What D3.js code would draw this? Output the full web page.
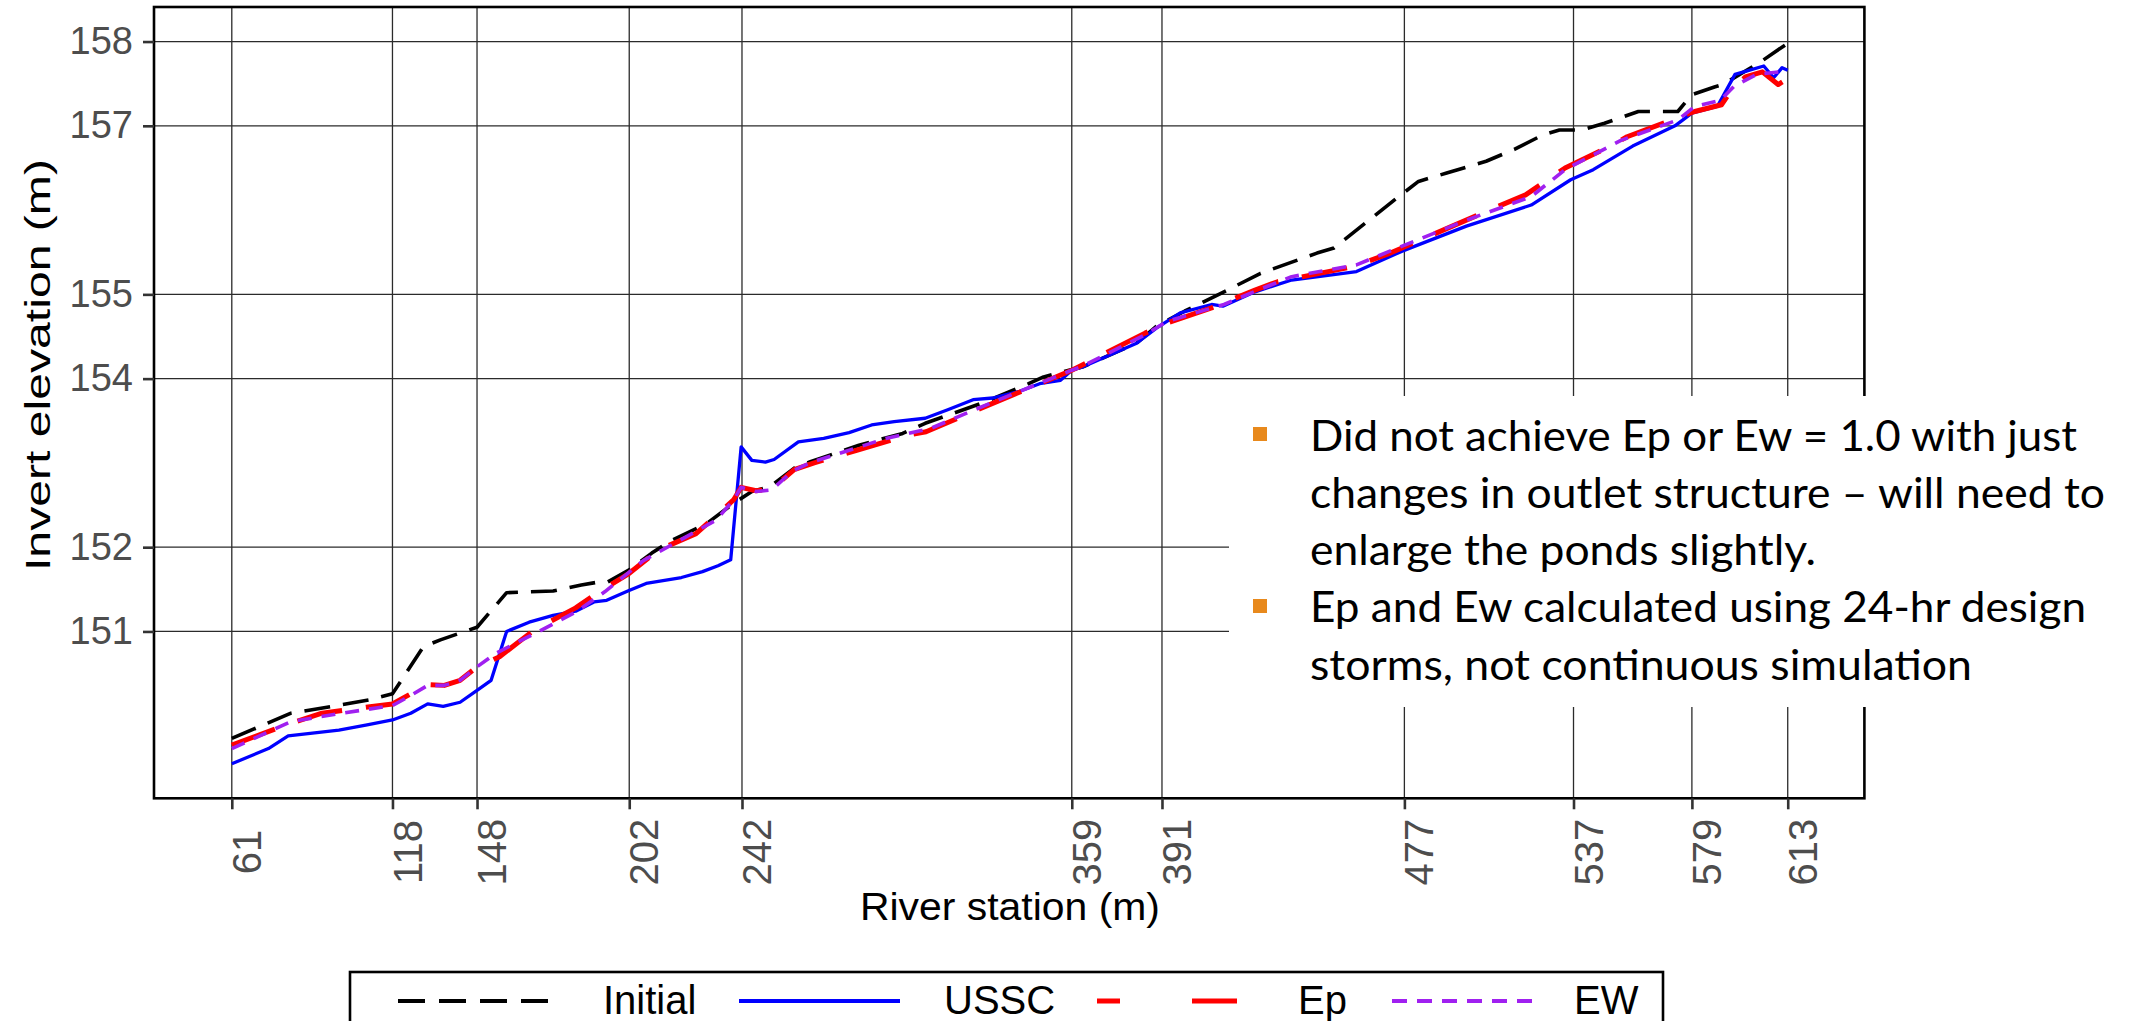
<!DOCTYPE html>
<html>
<head>
<meta charset="utf-8">
<script src="https://cdn.jsdelivr.net/npm/d3@7"></script>
<style>
  html, body { margin: 0; padding: 0; background: #ffffff; }
  svg { display: block; }
</style>
</head>
<body>
<svg id="chart" width="2134" height="1021"></svg>
<script>
// ---------------- DATA ----------------
const xTickValues = [61, 118, 148, 202, 242, 359, 391, 477, 537, 579, 613];
const yTickValues = [151, 152, 154, 155, 157, 158];

const seriesNames = ["Initial", "USSC", "Ep", "EW"];

const initialStation = [61, 82, 100, 110, 118, 129, 135, 148, 158.5, 175, 185, 190, 194, 202, 210, 217, 229.5, 239, 245.5, 252, 261, 266, 283.5, 299, 307, 312, 328, 343.7, 349, 358, 363, 382, 389, 399, 413, 426, 446, 452, 475, 482, 492, 506, 516, 526, 532, 540, 548, 560, 574, 579, 587, 590, 603, 613];
const initialElev = [149.73, 150.03, 150.13, 150.19, 150.26, 150.82, 150.90, 151.05, 151.46, 151.48, 151.55, 151.58, 151.58, 151.73, 151.93, 152.08, 152.28, 152.52, 152.66, 152.72, 152.95, 153.01, 153.21, 153.35, 153.47, 153.53, 153.72, 153.94, 154.02, 154.10, 154.14, 154.42, 154.62, 154.80, 155.03, 155.25, 155.49, 155.55, 156.16, 156.34, 156.44, 156.58, 156.72, 156.89, 156.95, 156.95, 157.03, 157.17, 157.17, 157.37, 157.46, 157.49, 157.75, 157.98];

const usscStation = [61, 74, 81, 99, 109, 118, 124.5, 130.5, 136, 142, 148, 153, 158.5, 166.5, 175, 183, 189.5, 194, 201.5, 208, 220.5, 228, 233.5, 238, 241.7, 245.5, 250.3, 253.4, 262, 271, 280, 288, 296, 307, 315, 324, 331, 340.5, 347.6, 355, 359, 363, 382, 389, 397.5, 408.6, 412.6, 424, 437, 460, 476, 499, 522, 536, 544, 558, 573, 579, 588, 594.3, 598.3, 604.5, 608, 611, 613];
const usscElev = [149.43, 149.61, 149.76, 149.83, 149.89, 149.95, 150.03, 150.14, 150.11, 150.16, 150.30, 150.42, 151.00, 151.11, 151.19, 151.24, 151.35, 151.37, 151.48, 151.57, 151.64, 151.71, 151.78, 151.85, 153.19, 153.03, 153.01, 153.04, 153.25, 153.29, 153.36, 153.45, 153.49, 153.53, 153.63, 153.75, 153.77, 153.85, 153.94, 153.98, 154.10, 154.14, 154.42, 154.60, 154.78, 154.88, 154.86, 155.03, 155.17, 155.27, 155.51, 155.81, 156.06, 156.36, 156.48, 156.76, 157.00, 157.15, 157.23, 157.61, 157.65, 157.71, 157.57, 157.69, 157.66];

const epStation = [61, 81, 93, 108.6, 118, 130.5, 136.4, 142, 148, 156, 168, 183, 189.5, 202, 212.5, 225.7, 239, 241.7, 247, 252.6, 260.5, 267.6, 282.7, 301, 307.3, 332.6, 347, 359, 362.6, 385, 392.8, 408.6, 424, 432, 459, 472, 494, 510, 520, 534, 550, 556, 580, 589.5, 593.6, 598, 604, 609.6, 613];
const epElev = [149.65, 149.90, 150.03, 150.10, 150.14, 150.37, 150.36, 150.42, 150.58, 150.70, 151.01, 151.28, 151.43, 151.69, 151.97, 152.16, 152.56, 152.71, 152.67, 152.69, 152.92, 153.00, 153.15, 153.33, 153.37, 153.73, 153.93, 154.10, 154.16, 154.54, 154.66, 154.84, 155.05, 155.15, 155.33, 155.49, 155.81, 156.04, 156.18, 156.50, 156.76, 156.87, 157.17, 157.25, 157.45, 157.58, 157.64, 157.49, 157.56];

const ewStation = [61, 82, 100, 118, 124.5, 130.5, 136.4, 142, 148, 154.6, 168.8, 183, 189.5, 193.3, 207, 210.7, 232.8, 239, 241.7, 247, 252.6, 259.8, 266, 293, 309, 323, 345, 359, 363, 385, 392.8, 413, 425, 437, 460, 476, 499, 522, 534, 554, 574, 580, 589, 594, 602, 613];
const ewElev = [149.61, 149.93, 150.03, 150.12, 150.24, 150.36, 150.36, 150.42, 150.58, 150.74, 150.98, 151.23, 151.38, 151.47, 151.84, 151.91, 152.32, 152.56, 152.71, 152.66, 152.68, 152.90, 153.00, 153.29, 153.41, 153.61, 153.91, 154.10, 154.15, 154.52, 154.68, 154.88, 155.05, 155.21, 155.35, 155.57, 155.88, 156.16, 156.48, 156.83, 157.07, 157.23, 157.30, 157.47, 157.61, 157.65];

const noteLines = [
  "Did not achieve Ep or Ew = 1.0 with just",
  "changes in outlet structure \u2013 will need to",
  "enlarge the ponds slightly.",
  "Ep and Ew calculated using 24-hr design",
  "storms, not continuous simulation"
];

// ---------------- LAYOUT / STYLE ----------------
const svg = d3.select("#chart");
const P = { left: 154, right: 1864.4, top: 7, bottom: 798.3 };

const x = d3.scaleLinear().domain([33.4, 640.2]).range([P.left, P.right]);
const y = d3.scaleLinear().domain([149.02, 158.41]).range([P.bottom, P.top]);

const styles = {
  Initial: { color: "#000000", width: 3.6, dash: "26,13" },
  USSC:    { color: "#0000FF", width: 3.3, dash: null },
  Ep:      { color: "#FF0000", width: 5,   dash: "46,24" },
  EW:      { color: "#A020F0", width: 3.6, dash: "14,10" }
};

const seriesData = {
  Initial: initialStation.map((s, i) => [s, initialElev[i]]),
  USSC: usscStation.map((s, i) => [s, usscElev[i]]),
  Ep: epStation.map((s, i) => [s, epElev[i]]),
  EW: ewStation.map((s, i) => [s, ewElev[i]])
};

const FONT = "'Liberation Sans', Arial, Helvetica, sans-serif";

// grid
const grid = svg.append("g");
grid.selectAll("line.gx").data(xTickValues).join("line")
  .attr("x1", d => x(d)).attr("x2", d => x(d))
  .attr("y1", P.top).attr("y2", P.bottom)
  .attr("stroke", "#2b2b2b").attr("stroke-width", 1.3);
grid.selectAll("line.gy").data(yTickValues).join("line")
  .attr("x1", P.left).attr("x2", P.right)
  .attr("y1", d => y(d)).attr("y2", d => y(d))
  .attr("stroke", "#2b2b2b").attr("stroke-width", 1.3);

// lines
const line = d3.line().x(d => x(d[0])).y(d => y(d[1]));
seriesNames.forEach(name => {
  const st = styles[name];
  svg.append("path")
    .datum(seriesData[name])
    .attr("d", line)
    .attr("fill", "none")
    .attr("stroke", st.color)
    .attr("stroke-width", st.width)
    .attr("stroke-dasharray", st.dash)
    .attr("stroke-linejoin", "round");
});

// panel border
svg.append("rect")
  .attr("x", P.left).attr("y", P.top)
  .attr("width", P.right - P.left).attr("height", P.bottom - P.top)
  .attr("fill", "none").attr("stroke", "#000").attr("stroke-width", 2.6);

// axes
const xAxis = svg.append("g")
  .attr("transform", `translate(0,${P.bottom})`)
  .call(d3.axisBottom(x).tickValues(xTickValues).tickSize(11).tickFormat(d3.format("d")));
xAxis.select(".domain").remove();
xAxis.selectAll(".tick line").attr("stroke", "#333").attr("stroke-width", 2.6);
xAxis.selectAll(".tick text")
  .attr("dy", null)
  .attr("x", 0)
  .attr("y", 28.6)
  .attr("transform", "translate(0,53.7) rotate(-90)")
  .attr("text-anchor", "middle")
  .attr("fill", "#4D4D4D")
  .style("font-family", FONT)
  .style("font-size", "40px");

const yAxis = svg.append("g")
  .attr("transform", `translate(${P.left},0)`)
  .call(d3.axisLeft(y).tickValues(yTickValues).tickSize(11).tickPadding(10).tickFormat(d3.format("d")));
yAxis.select(".domain").remove();
yAxis.selectAll(".tick line").attr("stroke", "#333").attr("stroke-width", 2.6);
yAxis.selectAll(".tick text")
  .attr("fill", "#4D4D4D")
  .style("font-family", FONT)
  .style("font-size", "38px");

// axis titles
svg.append("text")
  .attr("x", 1010).attr("y", 920)
  .attr("text-anchor", "middle")
  .attr("textLength", 300).attr("lengthAdjust", "spacingAndGlyphs")
  .style("font-family", FONT).style("font-size", "38px")
  .attr("fill", "#000")
  .text("River station (m)");

svg.append("text")
  .attr("transform", "translate(50,365) rotate(-90)")
  .attr("text-anchor", "middle")
  .attr("textLength", 412).attr("lengthAdjust", "spacingAndGlyphs")
  .style("font-family", FONT).style("font-size", "35px")
  .attr("fill", "#000")
  .text("Invert elevation (m)");

// legend
const legend = svg.append("g");
legend.append("rect")
  .attr("x", 350).attr("y", 972).attr("width", 1313).attr("height", 80)
  .attr("fill", "#fff").attr("stroke", "#000").attr("stroke-width", 2.6);
const legendKeys = {
  Initial: { x1: 398, x2: 562, tx: 603, dash: "27,14" },
  USSC:    { x1: 739, x2: 900, tx: 944, dash: null },
  Ep:      { x1: 1097, x2: 1237, tx: 1298, dash: "23,72,45,200" },
  EW:      { x1: 1392, x2: 1536, tx: 1574, dash: "15,10" }
};
seriesNames.forEach(name => {
  const k = legendKeys[name], st = styles[name];
  legend.append("line")
    .attr("x1", k.x1).attr("x2", k.x2).attr("y1", 1001).attr("y2", 1001)
    .attr("stroke", st.color).attr("stroke-width", name === "Ep" ? 5 : 4)
    .attr("stroke-dasharray", k.dash);
  legend.append("text")
    .attr("x", k.tx).attr("y", 1014)
    .style("font-family", FONT).style("font-size", "40px")
    .attr("fill", "#000")
    .text(name);
});

// annotation overlay box
const note = svg.append("g");
note.append("rect")
  .attr("x", 1229).attr("y", 396).attr("width", 2134 - 1229).attr("height", 311)
  .attr("fill", "#fff");
const noteBaselines = [451, 508, 565, 622, 680];
const noteWidths = [767, 795, 506, 776, 662];
note.selectAll("text").data(noteLines).join("text")
  .attr("x", 1310)
  .attr("y", (d, i) => noteBaselines[i])
  .attr("textLength", (d, i) => noteWidths[i])
  .attr("lengthAdjust", "spacingAndGlyphs")
  .style("font-family", "Lato, 'Open Sans', sans-serif")
  .style("font-size", "42px")
  .attr("fill", "#000")
  .text(d => d);
[427, 599].forEach(by => {
  note.append("rect")
    .attr("x", 1253).attr("y", by).attr("width", 14).attr("height", 14)
    .attr("fill", "#E8891C");
});
</script>
</body>
</html>
